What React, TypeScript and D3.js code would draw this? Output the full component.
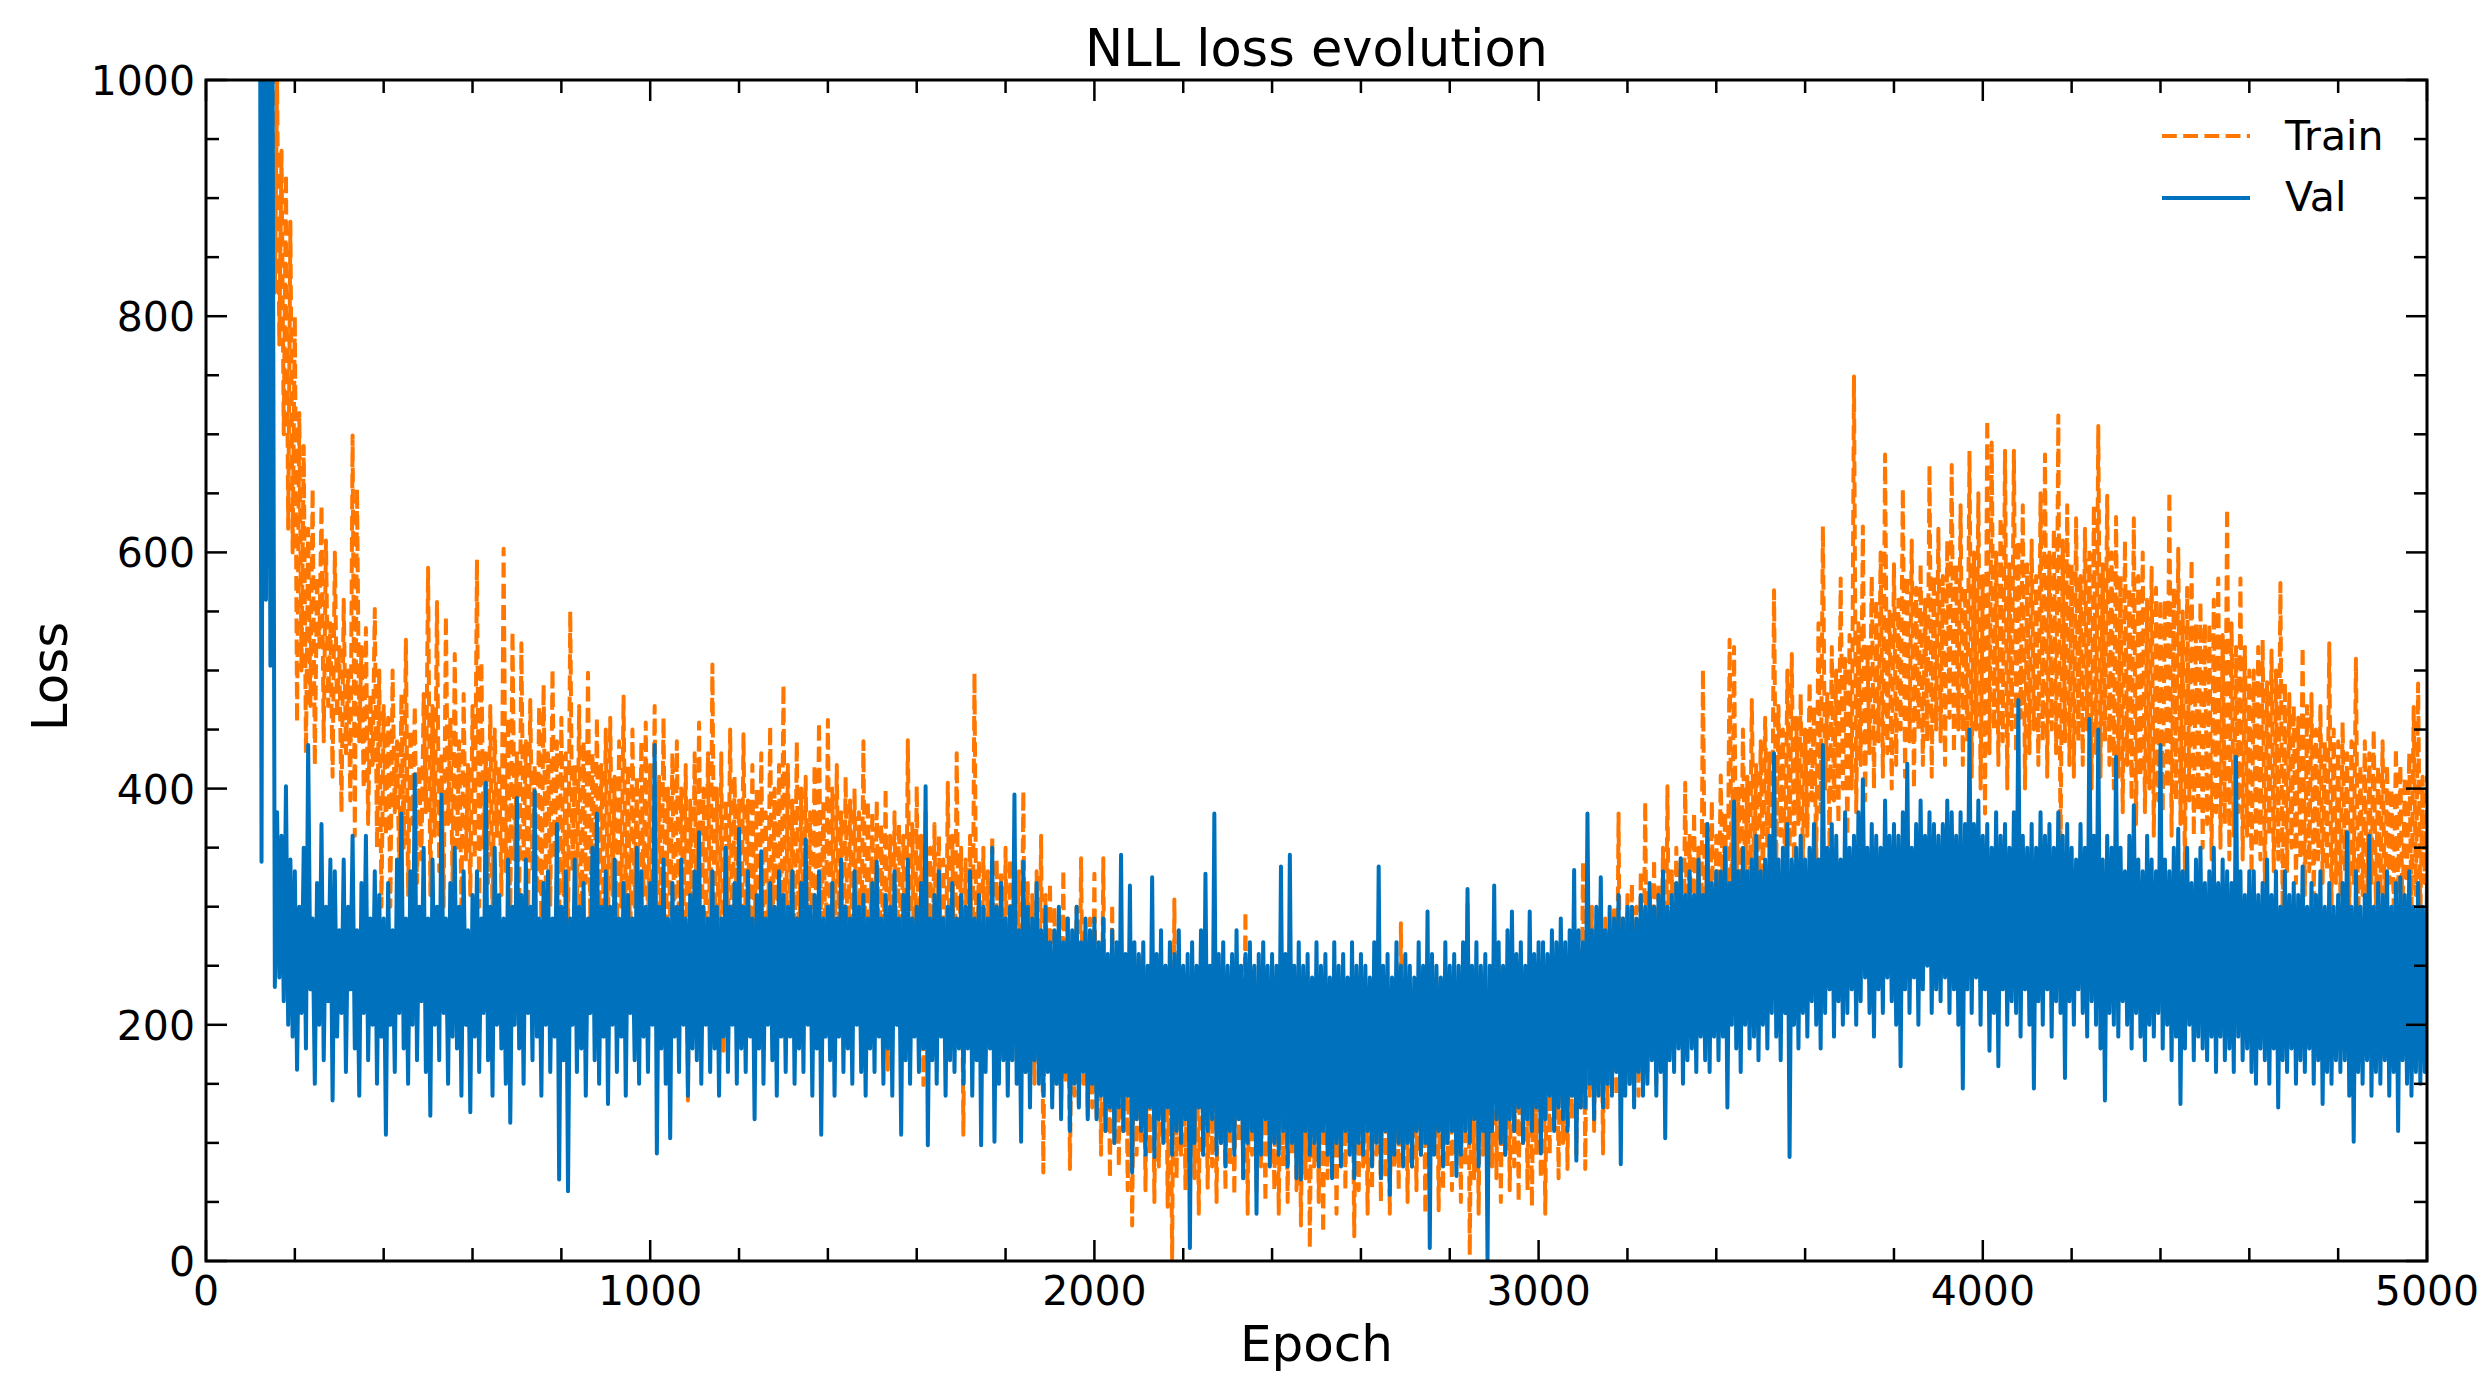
import React from "react";
import * as d3 from "d3";

// ---- data (one value every 5 epochs from epoch 120) ----
const EPOCH_START = 120;
const EPOCH_STEP = 5;

const trainLoss: number[] = [
  1600, 1400, 1300, 1200, 1100, 780, 1050, 820, 1000, 776, 940, 700, 920, 620, 880, 600, 800,
  456, 718, 500, 690, 430, 620, 470, 654, 420, 580, 520, 640, 440, 610, 470, 540, 410, 600, 460, 520,
  380, 560, 430, 500, 390, 699, 360, 654, 440, 520, 400, 536, 370, 480, 420, 552, 350, 500, 300, 470,
  360, 460, 300, 500, 380, 440, 330, 480, 350, 526, 310, 450, 370, 470, 320, 420, 340, 480, 380, 587,
  310, 470, 360, 558, 330, 430, 300, 546, 370, 460, 320, 514, 350, 440, 300, 480, 340, 420, 310, 470,
  340, 594, 300, 507, 350, 430, 320, 470, 290, 450, 360, 420, 310, 603, 330, 460, 290, 533, 340, 430,
  300, 523, 340, 440, 290, 475, 330, 420, 310, 470, 280, 488, 320, 430, 300, 501, 340, 440, 290, 460,
  310, 430, 280, 550, 330, 420, 300, 470, 270, 440, 320, 498, 290, 430, 310, 460, 280, 420, 300, 450,
  280, 460, 310, 410, 270, 440, 300, 478, 290, 420, 260, 450, 300, 410, 280, 440, 310, 456, 270, 420,
  280, 470, 250, 410, 290, 460, 260, 400, 280, 430, 240, 440, 270, 400, 290, 420, 136, 390, 260, 430,
  280, 456, 250, 400, 290, 430, 260, 505, 270, 400, 240, 430, 178, 390, 270, 450, 250, 410, 280, 390,
  260, 446, 280, 390, 250, 420, 270, 400, 240, 430, 280, 380, 250, 453, 260, 400, 240, 420, 270, 488,
  250, 420, 270, 390, 260, 440, 240, 400, 270, 410, 250, 380, 260, 420, 240, 456, 270, 390, 250, 458,
  260, 400, 240, 420, 270, 380, 250, 410, 230, 390, 260, 400, 240, 380, 250, 440, 230, 390, 260, 380,
  240, 390, 220, 370, 250, 400, 162, 360, 240, 380, 230, 370, 250, 360, 220, 441, 240, 370, 210, 402,
  230, 360, 149, 380, 220, 350, 240, 370, 210, 360, 230, 340, 200, 405, 220, 360, 210, 430, 230, 350,
  107, 340, 210, 360, 200, 498, 220, 340, 190, 350, 210, 330, 200, 360, 180, 340, 200, 330, 190, 350,
  180, 340, 200, 310, 170, 330, 190, 398, 160, 320, 180, 310, 150, 330, 170, 360, 75, 310, 160, 320,
  140, 300, 160, 280, 130, 331, 150, 290, 78, 270, 140, 300, 130, 341, 150, 270, 123, 290, 130, 328,
  120, 260, 90, 341, 110, 250, 70, 302, 100, 240, 80, 270, 110, 230, 60, 250, 30, 240, 90, 260,
  100, 250, 60, 230, 90, 260, 50, 240, 80, 220, 110, 250, 46, 230, 2, 306, 70, 240, 90, 220,
  60, 230, 100, 240, 70, 220, 40, 250, 90, 210, 62, 240, 80, 250, 50, 220, 100, 230, 60, 240,
  80, 220, 56, 240, 100, 250, 70, 296, 40, 220, 90, 230, 60, 250, 80, 210, 50, 240, 90, 220,
  60, 230, 40, 210, 80, 240, 50, 220, 90, 230, 60, 210, 30, 220, 70, 240, 11, 220, 80, 230,
  50, 210, 24, 230, 70, 220, 90, 240, 40, 200, 80, 230, 60, 220, 90, 210, 21, 240, 60, 220,
  80, 230, 40, 210, 60, 240, 90, 220, 50, 230, 70, 210, 40, 220, 80, 240, 60, 286, 90, 220,
  50, 230, 80, 210, 60, 240, 90, 220, 40, 230, 70, 210, 90, 240, 43, 220, 60, 230, 80, 210,
  60, 240, 90, 220, 50, 230, 80, 302, 5, 220, 70, 240, 40, 230, 90, 210, 60, 240, 80, 220,
  70, 250, 50, 230, 90, 240, 60, 220, 80, 250, 50, 230, 100, 240, 60, 250, 46, 230, 90, 240,
  70, 250, 40, 230, 90, 260, 110, 240, 70, 270, 100, 250, 78, 260, 120, 280, 90, 260, 130, 338,
  78, 270, 140, 300, 110, 280, 150, 306, 91, 290, 130, 280, 160, 300, 140, 379, 120, 290, 170, 310,
  150, 320, 180, 300, 140, 330, 190, 389, 160, 310, 200, 340, 150, 320, 180, 350, 170, 402, 200, 330,
  190, 350, 230, 340, 210, 405, 240, 360, 220, 380, 250, 350, 200, 501, 260, 370, 240, 390, 200, 360,
  270, 411, 300, 380, 260, 526, 290, 520, 310, 400, 280, 450, 320, 410, 290, 475, 330, 420, 300, 440,
  320, 460, 350, 430, 310, 568, 340, 470, 360, 450, 320, 500, 350, 514, 330, 460, 370, 480, 340, 450,
  360, 490, 390, 470, 340, 540, 380, 622, 400, 480, 350, 520, 390, 500, 370, 578, 400, 510, 360, 530,
  400, 749, 380, 540, 420, 622, 390, 520, 430, 580, 400, 560, 440, 600, 410, 683, 430, 550, 400, 590,
  420, 560, 450, 654, 410, 580, 440, 610, 400, 570, 450, 590, 420, 560, 440, 674, 410, 580, 450, 620,
  440, 580, 420, 610, 460, 674, 430, 590, 450, 640, 420, 570, 440, 686, 410, 600, 450, 650, 400, 580,
  379, 712, 430, 693, 450, 600, 420, 630, 440, 686, 400, 590, 450, 686, 430, 610, 460, 640, 400, 590,
  430, 610, 450, 580, 420, 650, 440, 683, 410, 600, 450, 620, 430, 716, 338, 610, 440, 640, 420, 590,
  410, 629, 440, 580, 420, 620, 450, 600, 400, 640, 430, 707, 410, 590, 440, 648, 420, 600, 400, 630,
  410, 580, 380, 610, 420, 570, 390, 629, 370, 580, 410, 600, 380, 560, 400, 587, 360, 570, 390, 560,
  380, 560, 400, 651, 360, 570, 390, 603, 370, 550, 328, 570, 390, 594, 360, 540, 380, 558, 350, 540,
  370, 540, 340, 560, 380, 578, 350, 530, 370, 637, 340, 540, 360, 520, 380, 578, 340, 520, 360, 500,
  328, 500, 350, 520, 340, 526, 320, 490, 360, 517, 330, 500, 340, 574, 296, 490, 330, 480, 350, 470,
  320, 460, 340, 520, 310, 470, 330, 480, 306, 450, 340, 470, 320, 440, 330, 523, 300, 450, 320, 440,
  310, 456, 330, 430, 300, 440, 320, 510, 283, 420, 310, 440, 290, 430, 320, 450, 300, 420, 310, 440,
  290, 420, 320, 400, 300, 434, 310, 420, 290, 410, 320, 430, 300, 469, 310, 489, 290, 410, 320, 411,
];

const valLoss: number[] = [
  1500, 338, 1200, 560, 1100, 504, 1000, 232, 380, 240, 360, 220, 402, 200, 340, 190, 330,
  162, 300, 210, 350, 180, 437, 230, 290, 150, 320, 200, 370, 170, 300, 220, 340, 136, 330, 190, 280,
  210, 340, 160, 300, 230, 360, 180, 280, 140, 320, 210, 360, 170, 290, 200, 330, 150, 310, 190, 290,
  107, 320, 200, 280, 160, 340, 210, 379, 180, 290, 150, 330, 200, 412, 170, 300, 220, 350, 160, 290,
  123, 340, 200, 300, 170, 395, 210, 290, 150, 320, 190, 350, 180, 300, 140, 330, 200, 280, 126, 310,
  190, 330, 160, 290, 210, 405, 170, 300, 140, 350, 200, 310, 180, 290, 150, 340, 117, 300, 200, 392,
  180, 310, 150, 340, 210, 300, 170, 398, 190, 290, 140, 320, 200, 330, 160, 290, 190, 370, 69, 300,
  170, 330, 59, 290, 200, 340, 160, 300, 180, 320, 140, 290, 210, 350, 170, 379, 150, 300, 190, 330,
  133, 300, 200, 340, 160, 290, 190, 320, 140, 310, 210, 290, 170, 350, 150, 330, 190, 300, 160, 320,
  200, 437, 91, 300, 180, 340, 150, 290, 104, 320, 190, 300, 160, 340, 200, 290, 140, 310, 180, 330,
  170, 363, 150, 300, 200, 290, 160, 330, 180, 300, 140, 290, 190, 350, 160, 300, 200, 320, 150, 366,
  180, 300, 160, 330, 190, 290, 120, 310, 180, 347, 150, 290, 200, 320, 170, 300, 140, 330, 190, 310,
  160, 300, 190, 330, 150, 290, 180, 320, 160, 357, 200, 300, 140, 310, 180, 330, 107, 290, 190, 300,
  170, 320, 140, 290, 190, 340, 160, 300, 180, 290, 150, 330, 200, 300, 160, 310, 140, 290, 180, 320,
  160, 338, 190, 290, 150, 310, 180, 300, 140, 330, 200, 290, 107, 310, 170, 340, 150, 290, 190, 300,
  160, 320, 180, 402, 98, 290, 170, 310, 150, 330, 190, 290, 140, 300, 170, 320, 160, 290, 180, 310,
  150, 300, 180, 330, 140, 290, 170, 310, 98, 300, 160, 290, 180, 350, 101, 300, 150, 320, 170, 290,
  140, 300, 170, 395, 150, 280, 101, 338, 160, 300, 130, 290, 170, 320, 150, 280, 140, 300, 160, 270,
  130, 280, 150, 300, 120, 270, 160, 290, 110, 280, 150, 300, 130, 270, 160, 290, 120, 280, 150, 290,
  120, 270, 140, 290, 110, 260, 130, 280, 100, 270, 130, 344, 110, 260, 140, 318, 75, 270, 120, 260,
  110, 270, 90, 250, 130, 325, 88, 260, 120, 280, 100, 250, 130, 270, 90, 260, 110, 280, 100, 250,
  120, 260, 11, 270, 100, 250, 130, 280, 90, 328, 110, 250, 120, 379, 90, 260, 100, 270, 80, 250,
  110, 260, 90, 280, 120, 250, 70, 260, 100, 270, 110, 250, 40, 260, 90, 270, 120, 250, 80, 260,
  100, 250, 90, 334, 110, 260, 80, 344, 100, 250, 70, 270, 69, 250, 110, 260, 90, 240, 100, 270,
  80, 250, 110, 260, 90, 240, 70, 270, 100, 250, 80, 260, 110, 240, 90, 270, 70, 250, 100, 260,
  90, 250, 110, 240, 80, 270, 100, 334, 70, 250, 110, 260, 56, 240, 90, 270, 100, 250, 80, 260,
  100, 250, 80, 240, 110, 270, 90, 250, 100, 296, 11, 260, 90, 250, 110, 240, 80, 270, 100, 250,
  110, 260, 72, 250, 90, 270, 110, 315, 100, 250, 120, 270, 80, 250, 110, 260, 0, 250, 110, 318,
  120, 270, 100, 250, 90, 280, 120, 296, 110, 260, 130, 270, 100, 250, 120, 296, 110, 260, 130, 270,
  91, 270, 120, 260, 140, 280, 110, 270, 130, 290, 120, 270, 110, 280, 140, 331, 85, 280, 130, 270,
  130, 379, 150, 280, 120, 300, 140, 325, 130, 280, 150, 300, 140, 290, 160, 310, 82, 290, 140, 300,
  150, 300, 130, 290, 160, 310, 140, 300, 150, 320, 170, 300, 140, 310, 160, 330, 104, 300, 170, 310,
  160, 320, 180, 341, 150, 310, 170, 330, 180, 310, 160, 340, 190, 310, 170, 370, 160, 320, 190, 330,
  170, 330, 190, 350, 130, 320, 200, 389, 180, 330, 160, 350, 200, 330, 180, 340, 190, 360, 170, 330,
  200, 340, 180, 360, 210, 430, 190, 340, 170, 350, 210, 370, 88, 340, 200, 350, 180, 360, 210, 340,
  190, 350, 220, 370, 200, 340, 180, 437, 210, 350, 230, 370, 190, 360, 220, 340, 200, 380, 210, 350,
  230, 360, 200, 380, 220, 408, 240, 350, 210, 370, 190, 360, 230, 350, 210, 390, 240, 360, 220, 370,
  200, 360, 165, 380, 230, 421, 210, 350, 240, 370, 200, 390, 230, 360, 250, 380, 210, 370, 230, 360,
  220, 370, 240, 390, 210, 380, 230, 360, 200, 380, 146, 370, 230, 450, 210, 370, 240, 390, 200, 360,
  230, 370, 178, 350, 210, 380, 165, 360, 230, 370, 200, 350, 220, 380, 210, 475, 190, 360, 230, 350,
  200, 370, 146, 350, 220, 380, 200, 360, 230, 370, 190, 350, 220, 380, 210, 360, 155, 370, 220, 350,
  200, 340, 230, 370, 210, 350, 190, 459, 220, 360, 200, 450, 180, 340, 136, 360, 210, 350, 200, 427,
  190, 350, 220, 330, 200, 360, 180, 386, 210, 340, 190, 330, 170, 360, 200, 340, 190, 330, 210, 437,
  180, 340, 200, 330, 170, 350, 190, 366, 133, 330, 180, 350, 200, 320, 170, 340, 190, 350, 180, 320,
  170, 330, 190, 350, 160, 320, 190, 340, 170, 330, 180, 320, 160, 427, 190, 330, 170, 310, 180, 330,
  160, 330, 150, 310, 180, 320, 170, 340, 150, 310, 180, 330, 130, 300, 170, 330, 160, 310, 180, 320,
  150, 310, 170, 334, 160, 300, 180, 320, 150, 310, 170, 330, 133, 300, 160, 320, 150, 300, 170, 310,
  160, 320, 170, 363, 140, 300, 101, 330, 160, 300, 150, 310, 170, 360, 140, 300, 160, 320, 150, 310,
  170, 330, 140, 300, 160, 320, 110, 325, 170, 310, 150, 330, 140, 300, 160, 320, 150, 300, 160, 320,
];

const xTicks = [0, 1000, 2000, 3000, 4000, 5000];
const yTicks = [0, 200, 400, 600, 800, 1000];
const xMinorStep = 200;
const yMinorStep = 50;
const seriesNames = ["Train", "Val"];
const titleText = "NLL loss evolution";
const xLabel = "Epoch";
const yLabel = "Loss";

// ---- layout ----
const W = 2491;
const H = 1376;
const M = { left: 206, right: 2427, top: 80, bottom: 1261 };
const FONT = "'DejaVu Sans', 'Liberation Sans', sans-serif";
const ORANGE = "#ff7700";
const BLUE = "#0072bd";
const LW = 4;
const DASH = "14.8,6.4";
const MAJOR = 21;
const MINOR = 13;

export default function App() {
  const x = d3.scaleLinear().domain([0, 5000]).range([M.left, M.right]);
  const y = d3.scaleLinear().domain([0, 1000]).range([M.bottom, M.top]);

  const trainEpochs = trainLoss.map((_, i) => EPOCH_START + i * EPOCH_STEP);
  const valEpochs = valLoss.map((_, i) => EPOCH_START + i * EPOCH_STEP);
  const mkLine = (ep: number[]) =>
    d3
      .line<number>()
      .x((_, i) => x(ep[i]))
      .y((d) => y(d));

  const xMinor = d3.range(0, 5000 + 1, xMinorStep).filter((v) => !xTicks.includes(v));
  const yMinor = d3.range(0, 1000 + 1, yMinorStep).filter((v) => !yTicks.includes(v));

  const tickStroke = { stroke: "#000", strokeWidth: 2.5 };

  return (
    <svg
      width={W}
      height={H}
      style={{ position: "absolute", left: 0, top: 0, background: "#fff" }}
      fontFamily={FONT}
    >
      <defs>
        <clipPath id="plotClip">
          <rect x={M.left} y={M.top} width={M.right - M.left} height={M.bottom - M.top} />
        </clipPath>
      </defs>
      <rect x={0} y={0} width={W} height={H} fill="#fff" />

      <g clipPath="url(#plotClip)">
        <path
          d={mkLine(trainEpochs)(trainLoss) || ""}
          fill="none"
          stroke={ORANGE}
          strokeWidth={LW}
          strokeDasharray={DASH}
          strokeLinejoin="round"
        />
        <path
          d={mkLine(valEpochs)(valLoss) || ""}
          fill="none"
          stroke={BLUE}
          strokeWidth={LW}
          strokeLinejoin="round"
        />
      </g>

      {/* ticks */}
      {xTicks.map((t) => (
        <g key={"xt" + t}>
          <line x1={x(t)} x2={x(t)} y1={M.bottom} y2={M.bottom - MAJOR} {...tickStroke} />
          <line x1={x(t)} x2={x(t)} y1={M.top} y2={M.top + MAJOR} {...tickStroke} />
          <text x={x(t)} y={M.bottom + 44} fontSize={41} textAnchor="middle" fill="#000">
            {t}
          </text>
        </g>
      ))}
      {xMinor.map((t) => (
        <g key={"xm" + t}>
          <line x1={x(t)} x2={x(t)} y1={M.bottom} y2={M.bottom - MINOR} {...tickStroke} />
          <line x1={x(t)} x2={x(t)} y1={M.top} y2={M.top + MINOR} {...tickStroke} />
        </g>
      ))}
      {yTicks.map((t) => (
        <g key={"yt" + t}>
          <line x1={M.left} x2={M.left + MAJOR} y1={y(t)} y2={y(t)} {...tickStroke} />
          <line x1={M.right} x2={M.right - MAJOR} y1={y(t)} y2={y(t)} {...tickStroke} />
          <text x={M.left - 11} y={y(t) + 15} fontSize={41} textAnchor="end" fill="#000">
            {t}
          </text>
        </g>
      ))}
      {yMinor.map((t) => (
        <g key={"ym" + t}>
          <line x1={M.left} x2={M.left + MINOR} y1={y(t)} y2={y(t)} {...tickStroke} />
          <line x1={M.right} x2={M.right - MINOR} y1={y(t)} y2={y(t)} {...tickStroke} />
        </g>
      ))}

      {/* frame */}
      <rect
        x={M.left}
        y={M.top}
        width={M.right - M.left}
        height={M.bottom - M.top}
        fill="none"
        stroke="#000"
        strokeWidth={3}
      />

      {/* title and labels */}
      <text x={(M.left + M.right) / 2} y={66} fontSize={51} textAnchor="middle" fill="#000">
        {titleText}
      </text>
      <text x={(M.left + M.right) / 2} y={1361} fontSize={50} textAnchor="middle" fill="#000">
        {xLabel}
      </text>
      <text
        transform={`translate(67, ${(M.top + M.bottom) / 2 + 6}) rotate(-90)`}
        fontSize={50}
        textAnchor="middle"
        fill="#000"
      >
        {yLabel}
      </text>

      {/* legend */}
      <g>
        <line x1={2162} x2={2250} y1={136} y2={136} stroke={ORANGE} strokeWidth={LW} strokeDasharray={DASH} />
        <text x={2285} y={150} fontSize={41} fill="#000">
          {seriesNames[0]}
        </text>
        <line x1={2162} x2={2250} y1={198} y2={198} stroke={BLUE} strokeWidth={LW} />
        <text x={2285} y={211} fontSize={41} fill="#000">
          {seriesNames[1]}
        </text>
      </g>
    </svg>
  );
}
